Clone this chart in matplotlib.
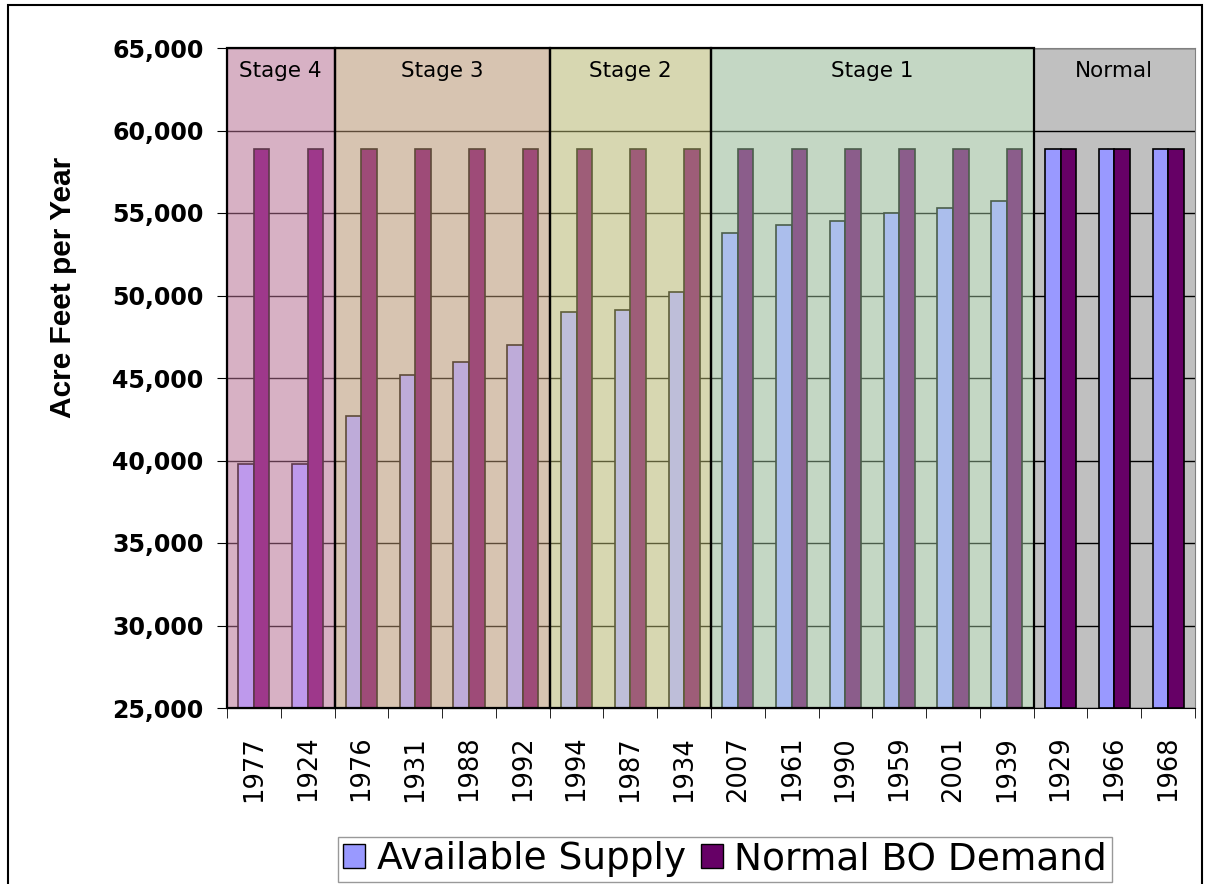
import numpy as np
import matplotlib
matplotlib.use('Agg')
import matplotlib.pyplot as plt
from matplotlib.patches import Rectangle, Patch
from matplotlib.ticker import FuncFormatter, MultipleLocator

# data
years = ['1977', '1924', '1976', '1931', '1988', '1992', '1994', '1987', '1934',
         '2007', '1961', '1990', '1959', '2001', '1939', '1929', '1966', '1968']
supply = [39800, 39800, 42700, 45200, 46000, 47000, 49000, 49100, 50200,
          53800, 54300, 54500, 55000, 55300, 55750, 58900, 58900, 58900]
demand = [58900] * 18

stage_names = ['Stage 4', 'Stage 3', 'Stage 2', 'Stage 1', 'Normal']
stage_counts = [2, 4, 3, 6, 3]
stage_colors = ['#FF99CC', '#FFCC99', '#FFFF99', '#CCFFCC', None]

fig = plt.figure(figsize=(12.1, 8.84), dpi=100)
ax = fig.add_axes([227/1210, 1-708/884, 968/1210, 660/884])
ax.set_facecolor('#C0C0C0')

x = np.arange(len(years))
w = 0.29
ax.bar(x - w/2, [s - 25000 for s in supply], w, bottom=25000, color='#9999FF',
       edgecolor='black', linewidth=1.2, zorder=3, label='Available Supply')
ax.bar(x + w/2, [d - 25000 for d in demand], w, bottom=25000, color='#660066',
       edgecolor='black', linewidth=1.2, zorder=3, label='Normal BO Demand')

ax.set_xlim(-0.5, len(years) - 0.5)
ax.set_ylim(25000, 65000)
ax.yaxis.set_major_locator(MultipleLocator(5000))
ax.yaxis.set_major_formatter(FuncFormatter(lambda v, p: f'{int(v):,}'))
ax.grid(axis='y', color='black', linewidth=1, zorder=1)
ax.set_axisbelow(True)

# stage overlays
start = -0.5
for name, n, c in zip(stage_names, stage_counts, stage_colors):
    if c is not None:
        ax.add_patch(Rectangle((start, 25000), n, 40000, facecolor=c, alpha=0.37,
                               edgecolor='none', zorder=4))
        ax.add_patch(Rectangle((start, 25000), n, 40000, facecolor='none',
                               edgecolor='black', linewidth=1.6, zorder=5, clip_on=False))
    ax.text(start + n/2, 63600, name, ha='center', va='center', fontsize=15.5,
            family='DejaVu Sans', zorder=6)
    start += n

ax.set_xticks(x)
ax.set_xticklabels(years, rotation=90, fontsize=18.5, family='DejaVu Sans')
ax.set_xticks(np.arange(-0.5, len(years)), minor=True)
ax.tick_params(axis='x', which='major', length=0, pad=20)
ax.tick_params(axis='x', which='minor', length=7, color='black')
ax.tick_params(axis='y', length=7, labelsize=17, pad=10)
for t in ax.get_yticklabels():
    t.set_fontweight('bold')
    t.set_family('DejaVu Sans')

ax.set_ylabel('Acre Feet per Year', fontsize=21.5, fontweight='bold',
              family='Liberation Sans')
ax.yaxis.set_label_coords(-0.155, 0.638)

for s in ['top', 'right']:
    ax.spines[s].set_color('#808080')
for s in ['left', 'bottom']:
    ax.spines[s].set_color('black')

fig.legend(handles=[Patch(facecolor='#9999FF', edgecolor='black', label='Available Supply'),
                    Patch(facecolor='#660066', edgecolor='black', label='Normal BO Demand')],
           loc='center', bbox_to_anchor=(725/1210, 1-859/884), ncol=2,
           prop={'family': 'DejaVu Sans', 'size': 27}, frameon=True, fancybox=False,
           edgecolor='#808080', handlelength=0.6, handleheight=0.6,
           handletextpad=0.3, columnspacing=0.4, borderpad=0.12, borderaxespad=0)

# outer chart border
fig.patches.append(Rectangle((8/1210, -0.05), 1194/1210, 1.05 - 5/884,
                             transform=fig.transFigure, facecolor='none',
                             edgecolor='black', linewidth=1.5))

fig.savefig('out.png', dpi=100)
